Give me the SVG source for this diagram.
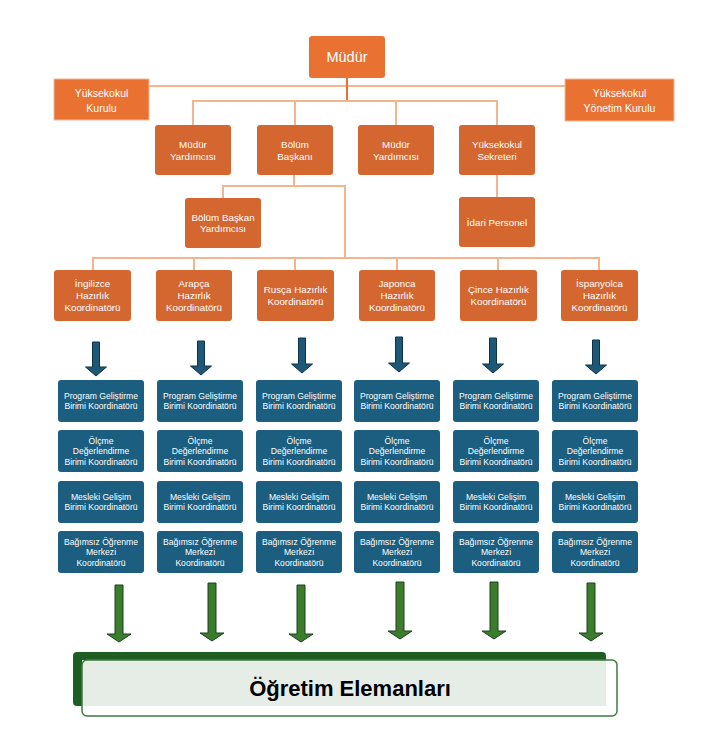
<svg xmlns="http://www.w3.org/2000/svg" width="728" height="755" viewBox="0 0 728 755">
<style>
text{font-family:"Liberation Sans",Arial,sans-serif;fill:#ffffff;text-anchor:middle;dominant-baseline:central}
.top{fill:#E97132}
.org{fill:#D4662F}
.kur{fill:#E97132;stroke:#F6B896;stroke-width:1}
.t14{font-size:14.5px}
.t10{font-size:10.5px}
.t9{font-size:9.8px}
.blue{fill:#1B5E80}
.tb{font-size:8.6px}
.ln{stroke:#F4B48E;stroke-width:2;fill:none}
.lnd{stroke:#E97132;stroke-width:2;fill:none}
.ab{fill:#1D5878;stroke:#0E3246;stroke-width:1}
.ag{fill:#3A7D2A;stroke:#1F3F22;stroke-width:1}
.big{font-size:22px;font-weight:bold;fill:#000000}
</style>
<rect width="728" height="755" fill="#ffffff"/>
<g id="connectors">
<line class="ln" x1="149" y1="86" x2="565" y2="86"/>
<line class="lnd" x1="347" y1="78" x2="347" y2="101"/>
<path class="ln" d="M193 125V101H497V125M295 101V125M396 101V125"/>
<path class="ln" d="M294 175V186M223 198V186H345V258"/>
<line class="ln" x1="497" y1="175" x2="497" y2="197"/>
<path class="ln" d="M93 270V258H599V270M194 258V270M295 258V270M397 258V270M498 258V270"/>
<path class="ab" d="M92.5 342h7v25h7l-10.5 9l-10.5 -9h7z"/>
<path class="ab" d="M197.5 341h7v25h7l-10.5 9l-10.5 -9h7z"/>
<path class="ab" d="M298.5 338h7v26h7l-10.5 9l-10.5 -9h7z"/>
<path class="ab" d="M395.5 337h7v26h7l-10.5 9l-10.5 -9h7z"/>
<path class="ab" d="M489.5 338h7v26h7l-10.5 9l-10.5 -9h7z"/>
<path class="ab" d="M592.5 340h7v25h7l-10.5 9l-10.5 -9h7z"/>
<path class="ag" d="M115 585h8v49h8l-12 8l-12 -8h8z"/>
<path class="ag" d="M208 583h8v50h8l-12 8l-12 -8h8z"/>
<path class="ag" d="M297 585h8v49h8l-12 8l-12 -8h8z"/>
<path class="ag" d="M396 582h8v49h8l-12 8l-12 -8h8z"/>
<path class="ag" d="M490 582h8v49h8l-12 8l-12 -8h8z"/>
<path class="ag" d="M587 583h8v50h8l-12 8l-12 -8h8z"/>
</g>
<g id="mudur"><rect class="top" x="309" y="36" width="76" height="42" rx="3"/><text class="t14" x="347" y="57">Müdür</text></g>
<g id="yuksekokul-kurulu"><rect class="kur" x="54" y="79" width="95" height="41"/><text class="t10" x="101.5" y="93">Yüksekokul</text><text class="t10" x="101.5" y="107.5">Kurulu</text></g>
<g id="yonetim-kurulu"><rect class="kur" x="565" y="79" width="109" height="42"/><text class="t10" x="619.5" y="93">Yüksekokul</text><text class="t10" x="619.5" y="108">Yönetim Kurulu</text></g>
<g id="mudur-yard-1"><rect class="org" x="155" y="125" width="76" height="50" rx="3"/><text class="t9" x="193" y="144">Müdür</text><text class="t9" x="193" y="156">Yardımcısı</text></g>
<g id="bolum-baskani"><rect class="org" x="257" y="125" width="76" height="50" rx="3"/><text class="t9" x="295" y="144">Bölüm</text><text class="t9" x="295" y="156">Başkanı</text></g>
<g id="mudur-yard-2"><rect class="org" x="358" y="125" width="76" height="50" rx="3"/><text class="t9" x="396" y="144">Müdür</text><text class="t9" x="396" y="156">Yardımcısı</text></g>
<g id="sekreter"><rect class="org" x="459" y="125" width="76" height="50" rx="3"/><text class="t9" x="497" y="144">Yüksekokul</text><text class="t9" x="497" y="156">Sekreteri</text></g>
<g id="bolum-baskan-yard"><rect class="org" x="185" y="198" width="76" height="50" rx="3"/><text class="t9" x="223" y="217">Bölüm Başkan</text><text class="t9" x="223" y="228">Yardımcısı</text></g>
<g id="idari-personel"><rect class="org" x="459" y="197" width="76" height="50" rx="3"/><text class="t9" x="497" y="222">İdari Personel</text></g>
<g id="ingilizce"><rect class="org" x="54" y="270" width="77" height="51" rx="3"/><text class="t9" x="92.5" y="283">İngilizce</text><text class="t9" x="92.5" y="295">Hazırlık</text><text class="t9" x="92.5" y="307">Koordinatörü</text></g>
<g id="arapca"><rect class="org" x="156" y="270" width="76" height="51" rx="3"/><text class="t9" x="194" y="283">Arapça</text><text class="t9" x="194" y="295">Hazırlık</text><text class="t9" x="194" y="307">Koordinatörü</text></g>
<g id="rusca"><rect class="org" x="257" y="270" width="77" height="51" rx="3"/><text class="t9" x="295.5" y="289">Rusça Hazırlık</text><text class="t9" x="295.5" y="301">Koordinatörü</text></g>
<g id="japonca"><rect class="org" x="359" y="270" width="76" height="51" rx="3"/><text class="t9" x="397" y="283">Japonca</text><text class="t9" x="397" y="295">Hazırlık</text><text class="t9" x="397" y="307">Koordinatörü</text></g>
<g id="cince"><rect class="org" x="460" y="270" width="77" height="51" rx="3"/><text class="t9" x="498.5" y="289">Çince Hazırlık</text><text class="t9" x="498.5" y="301">Koordinatörü</text></g>
<g id="ispanyolca"><rect class="org" x="561" y="270" width="77" height="51" rx="3"/><text class="t9" x="599.5" y="283">İspanyolca</text><text class="t9" x="599.5" y="295">Hazırlık</text><text class="t9" x="599.5" y="307">Koordinatörü</text></g>
<defs>
<g id="col">
<rect class="blue" x="0" y="380" width="86" height="42" rx="3"/>
<text class="tb" x="43" y="396">Program Geliştirme</text><text class="tb" x="43" y="406">Birimi Koordinatörü</text>
<rect class="blue" x="0" y="430" width="86" height="42" rx="3"/>
<text class="tb" x="43" y="440.5">Ölçme</text><text class="tb" x="43" y="451">Değerlendirme</text><text class="tb" x="43" y="461.5">Birimi Koordinatörü</text>
<rect class="blue" x="0" y="481" width="86" height="42" rx="3"/>
<text class="tb" x="43" y="497">Mesleki Gelişim</text><text class="tb" x="43" y="507">Birimi Koordinatörü</text>
<rect class="blue" x="0" y="531" width="86" height="42" rx="3"/>
<text class="tb" x="43" y="541.5">Bağımsız Öğrenme</text><text class="tb" x="43" y="552">Merkezi</text><text class="tb" x="43" y="562.5">Koordinatörü</text>
</g>
</defs>
<g id="birimler-1"><use href="#col" x="58"/></g>
<g id="birimler-2"><use href="#col" x="157"/></g>
<g id="birimler-3"><use href="#col" x="256"/></g>
<g id="birimler-4"><use href="#col" x="354"/></g>
<g id="birimler-5"><use href="#col" x="453"/></g>
<g id="birimler-6"><use href="#col" x="552"/></g>
<g id="ogretim-elemanlari">
<rect x="73" y="652" width="533" height="54" rx="4" fill="#1E5E22"/>
<rect x="82" y="660" width="524" height="46" fill="#E6ECE6"/>
<rect x="82" y="660" width="535" height="56" rx="5" fill="none" stroke="#3E7B3E" stroke-width="1.5"/>
<text class="big" x="350" y="688">Öğretim Elemanları</text>
</g>
</svg>
